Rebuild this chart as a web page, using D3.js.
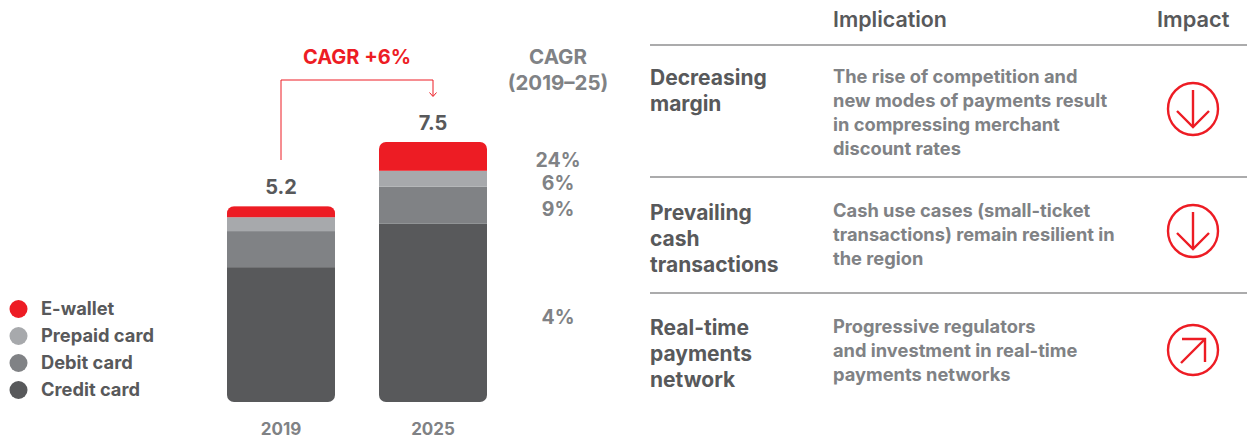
<!DOCTYPE html>
<html><head><meta charset="utf-8">
<script src="https://cdn.jsdelivr.net/npm/d3@7/dist/d3.min.js"></script>
<style>html,body{margin:0;padding:0;background:#fff}svg{display:block}text{font-family:Inter,sans-serif;font-weight:500}</style>
</head><body><svg id="c" width="1247" height="438"></svg>
<script>
const years = ["2019","2025"];
const seriesNames = ["Credit card","Debit card","Prepaid card","E-wallet"];
const creditCard = [3.89,5.14];
const debitCard = [1.04,1.07];
const prepaidCard = [0.40,0.46];
const eWallet = [0.32,0.83];
const totals = ["5.2","7.5"];
const cagrLabels = ["4%","9%","6%","24%"];
const legendOrder = ["E-wallet","Prepaid card","Debit card","Credit card"];
const colors = ["#58595B","#808285","#A7A9AC","#ED1C24"];
const rowTitles = [["Decreasing","margin"],["Prevailing","cash","transactions"],["Real-time","payments","network"]];
const rowTexts = [
 ["The rise of competition and","new modes of payments result","in compressing merchant","discount rates"],
 ["Cash use cases (small-ticket","transactions) remain resilient in","the region"],
 ["Progressive regulators","and investment in real-time","payments networks"]];
const rowImpact = ["down","down","up"];

const svg = d3.select("#c");
const RED="#ED1C24", DARK="#58595B", GRAY="#808285";
const x = d3.scaleBand().domain(years).range([227,487]).paddingInner(44/152);
const y = d3.scaleLinear().domain([0,7.5]).range([402,142]);
const color = d3.scaleOrdinal(seriesNames,colors);
const table = years.map((yr,i)=>({year:yr,"Credit card":creditCard[i],"Debit card":debitCard[i],"Prepaid card":prepaidCard[i],"E-wallet":eWallet[i]}));
const stacked = d3.stack().keys(seriesNames)(table);

const txt=(s,px,py,size,fill,anchor="start",w=700)=>svg.append("text").attr("x",px).attr("y",py).attr("font-size",size).attr("fill",fill).attr("text-anchor",anchor).style("font-weight",w).text(s);

const defs = svg.append("defs");
table.forEach((d,i)=>{
  const top = d3.sum(seriesNames,k=>d[k]);
  defs.append("clipPath").attr("id","bar"+i).append("rect")
    .attr("x",x(d.year)).attr("width",x.bandwidth())
    .attr("y",y(top)).attr("height",y(0)-y(top)).attr("rx",7);
});
const barG = svg.append("g");
table.forEach((d,i)=>{
  const g = barG.append("g").attr("clip-path",`url(#bar${i})`);
  stacked.forEach(s=>{
    g.append("rect").attr("x",x(d.year)).attr("width",x.bandwidth())
     .attr("y",y(s[i][1])).attr("height",y(s[i][0])-y(s[i][1])).attr("fill",color(s.key));
  });
  txt(totals[i],x(d.year)+x.bandwidth()/2,i==0?194:130,20,DARK,"middle",700);
});
// x axis
const ax = svg.append("g").attr("transform","translate(0,402)").call(d3.axisBottom(x).tickSize(0).tickPadding(21));
ax.select(".domain").remove();
ax.selectAll("text").attr("font-size",17).attr("fill",GRAY).attr("font-family","Inter,sans-serif").style("font-weight",700);

// CAGR connector
const cx0=x("2019")+x.bandwidth()/2, cx1=x("2025")+x.bandwidth()/2;
svg.append("path").attr("d",d3.line()([[cx0,160],[cx0,80],[cx1,80],[cx1,96]])).attr("fill","none").attr("stroke",RED).attr("stroke-width",1);
svg.append("path").attr("d",d3.line()([[cx1-3.5,92.5],[cx1,96.5],[cx1+3.5,92.5]])).attr("fill","none").attr("stroke",RED).attr("stroke-width",1);
txt("CAGR +6%",357,64,20,RED,"middle",700);
txt("CAGR",558,64,20.5,GRAY,"middle",700);
txt("(2019–25)",558,90,20.5,GRAY,"middle",700);
[[324,0],[216,1],[190,2],[167,3]].forEach(([py,i])=>txt(cagrLabels[i],558,py,19.5,GRAY,"middle",700));

// legend
legendOrder.forEach((n,i)=>{
  const py=309+i*27;
  svg.append("circle").attr("cx",18.5).attr("cy",py).attr("r",9).attr("fill",color(n));
  txt(n,41,py+6,18.3,DARK,"start",700);
});

// table
txt("Implication",833,27,21.4,DARK,"start",600);
txt("Impact",1157,27,21.8,DARK,"start",600);
[45,177,293].forEach(py=>svg.append("line").attr("x1",650).attr("x2",1247).attr("y1",py).attr("y2",py).attr("stroke",DARK).attr("stroke-width",1.2));
const titleY=[85,220,335], textY=[83,217,333], iconY=[109,231,350];
rowTitles.forEach((r,i)=>r.forEach((t,j)=>txt(t,650,titleY[i]+j*26,21,DARK,"start",700)));
rowTexts.forEach((r,i)=>r.forEach((t,j)=>txt(t,833,textY[i]+j*24,18.3,GRAY,"start",700)));
rowImpact.forEach((k,i)=>{
  const g=svg.append("g").attr("transform",`translate(1193,${iconY[i]})`).attr("fill","none").attr("stroke",RED).attr("stroke-width",2.4);
  g.append("ellipse").attr("rx",25).attr("ry",i==2?25:26);
  const line=d3.line();
  if(k==="down"){
    g.append("path").attr("d",line([[0,-19],[0,18]]));
    g.append("path").attr("d",line([[-16,2],[0,18],[16,2]]));
  } else {
    g.append("path").attr("d",line([[-12,13],[12,-11]]));
    g.append("path").attr("d",line([[-11,-11],[12,-11],[12,12]]));
  }
});
</script></body></html>
